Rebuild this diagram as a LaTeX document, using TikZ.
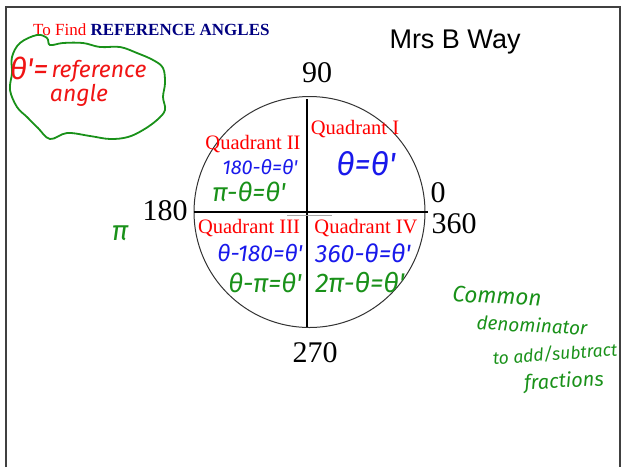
\documentclass[tikz,border=0pt]{standalone}
\usepackage{fontspec}
\setmainfont{Liberation Serif}
\newfontfamily\arialfont{Liberation Sans}
\newfontfamily\handfont{Fira Sans}
\usetikzlibrary{positioning}
\definecolor{navyblue}{RGB}{0,0,128}
\definecolor{penblue}{RGB}{25,25,235}
\definecolor{pengreen}{RGB}{25,145,25}
\definecolor{penred}{RGB}{240,20,20}
\newcommand{\inksize}[1]{\handfont\itshape\fontsize{#1}{#1}\selectfont}

\begin{document}
\begin{tikzpicture}[
    x=1pt, y=-1pt,
    every node/.style={inner sep=0pt},
    quad/.style={text=red, font=\fontsize{20.5}{20.5}\selectfont, anchor=base},
    deg/.style={font=\fontsize{30}{30}\selectfont, anchor=base},
    ink/.style={font=\inksize{19}},
    blueink/.style={ink, text=penblue},
    greenink/.style={ink, text=pengreen},
    axis/.style={line width=1.6pt}
]
\useasboundingbox (0,0) rectangle (621,467);
\draw[black!75, line width=1.2pt] (6,467) -- (6,7) -- (620,7) -- (620,467);

% headings
\node[anchor=base west, font=\fontsize{17}{17}\selectfont] (title) at (33,35)
    {\textcolor{red}{To Find} \textcolor{navyblue}{\textbf{REFERENCE ANGLES}}};
\node[anchor=base, font=\arialfont\fontsize{27}{27}\selectfont] (author) at (455,48) {Mrs B Way};

% the dial
\node[circle, draw=black!80, line width=1pt, minimum size=231pt] (dial) at (309.5,212) {};
\draw[axis] (307,99) -- (307,327);
\draw[axis] (dial.west) -- (428,212);
\draw[black!35, line width=1pt] (287,215) -- (332,215);

\node[deg] (d90) at (317,82) {90};
\node[deg] (d180) at (165,220) {180};
\node[deg] (d0) at (438,202) {0};
\node[deg] (d360) at (454,233) {360};
\node[deg] (d270) at (315,362) {270};

\node[quad] (q1) at (355,134) {Quadrant I};
\node[quad] (q2) at (253,149) {Quadrant II};
\node[quad] (q3) at (249,233) {Quadrant III};
\node[quad] (q4) at (366,233) {Quadrant IV};

% pen notes in the quadrants
\node[blueink, font=\inksize{32}] (r1) at (366,164) {θ=θ'};
\node[blueink, font=\inksize{20}] (r2) at (260,167) {180-θ=θ'};
\node[greenink, font=\inksize{26}] (r2pi) at (249,192) {π-θ=θ'};
\node[blueink, font=\inksize{23}] (r3) at (260,253) {θ-180=θ'};
\node[greenink, font=\inksize{26}] (r3pi) at (265,283) {θ-π=θ'};
\node[blueink, font=\inksize{25}] (r4) at (363,253) {360-θ=θ'};
\node[greenink, font=\inksize{27}] (r4pi) at (360,283) {2π-θ=θ'};
\node[greenink, font=\inksize{28}] (pi) at (120,233) {π};

% reference angle cloud
\draw[pengreen, line width=1.8pt] plot[smooth cycle, tension=0.6] coordinates {
    (12,57) (20,43) (37,35) (47,38) (50,45) (63,43) (83,43) (100,47) (120,47)
    (137,53) (153,60) (163,68) (165,83) (163,97) (165,110) (157,120) (143,130)
    (128,137) (110,139) (90,136) (67,133) (50,139) (38,128) (27,117) (17,107)
    (10,90) (12,73)};
\node[text=penred, font=\inksize{30}] (theta) at (29,68) {θ'=};
\node[text=penred, font=\inksize{23}] (refword) at (99,71) {reference};
\node[text=penred, font=\inksize{23}] (angleword) at (79,95) {angle};

% side note
\node[greenink, font=\inksize{22.5}, rotate=-3] (note1) at (497,296) {Common};
\node[greenink, rotate=-3] (note2) at (532,325) {denominator};
\node[greenink, font=\inksize{17.5}, rotate=4] (note3) at (555,354) {to add/subtract};
\node[greenink, font=\inksize{20}, rotate=3] (note4) at (564,382) {fractions};
\end{tikzpicture}
\end{document}
